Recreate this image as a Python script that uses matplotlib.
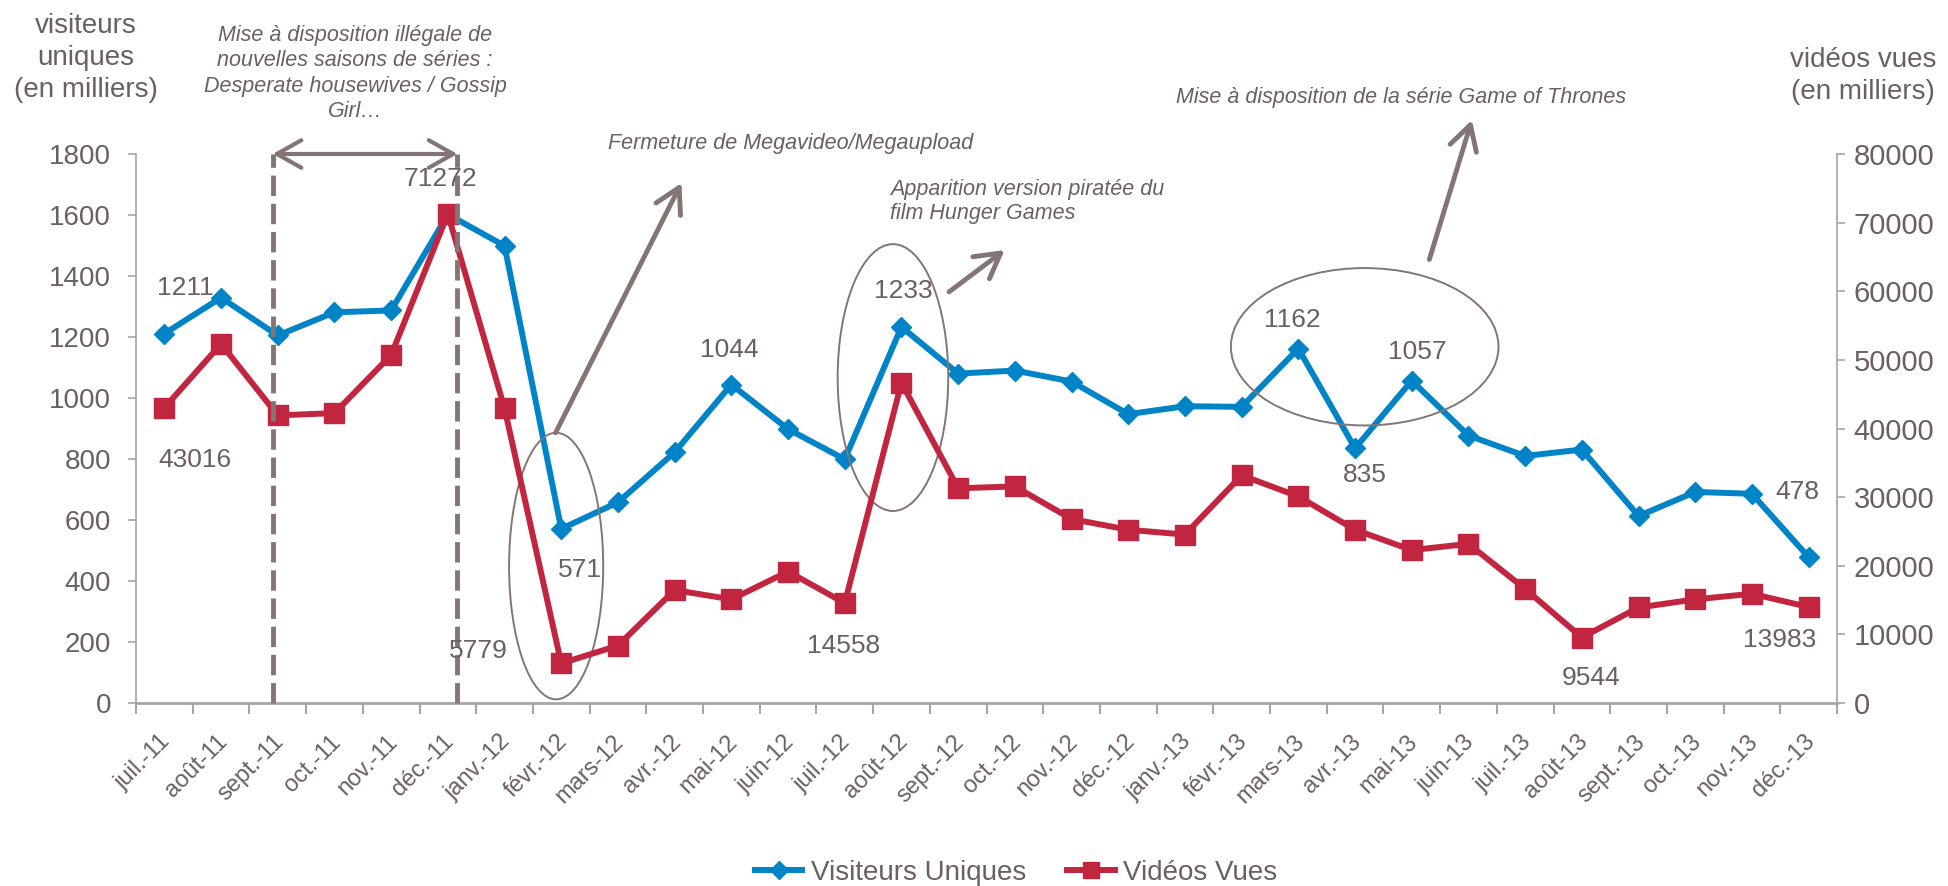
import matplotlib
matplotlib.use('Agg')
import matplotlib.pyplot as plt
from matplotlib.patches import Ellipse
from matplotlib.transforms import ScaledTranslation

plt.rcParams['font.family'] = ['Liberation Sans', 'DejaVu Sans']

months = ['juil.-11', 'août-11', 'sept.-11', 'oct.-11', 'nov.-11', 'déc.-11',
          'janv.-12', 'févr.-12', 'mars-12', 'avr.-12', 'mai-12', 'juin-12',
          'juil.-12', 'août-12', 'sept.-12', 'oct.-12', 'nov.-12', 'déc.-12',
          'janv.-13', 'févr.-13', 'mars-13', 'avr.-13', 'mai-13', 'juin-13',
          'juil.-13', 'août-13', 'sept.-13', 'oct.-13', 'nov.-13', 'déc.-13']

# visiteurs uniques (milliers) - axe gauche
visiteurs = [1211, 1329, 1205, 1281, 1287, 1602, 1499, 571, 658, 822,
             1044, 898, 799, 1233, 1080, 1090, 1054, 947, 973, 971,
             1162, 835, 1057, 877, 810, 831, 613, 692, 686, 478]

# vidéos vues (milliers) - axe droit
videos = [43016, 52327, 41915, 42239, 50708, 71272, 42940, 5779, 8361, 16453,
          15105, 19150, 14558, 46662, 31288, 31558, 26810, 25246, 24545, 33176,
          30101, 25246, 22279, 23196, 16615, 9544, 13918, 15105, 15914, 13983]

# points étiquetés : index -> décalage en pixels
vis_labels = {0: (21, 46), 7: (19, -41), 10: (-2, 35), 13: (2, 36),
              20: (-6, 29), 21: (10, -27), 22: (6, 29), 29: (-11, 65)}
vid_labels = {0: (31, -52), 5: (-7, 35), 7: (-83, 12), 12: (-1, -43),
              25: (9, -40), 29: (-29, -33)}

BLUE = '#0084C7'
RED = '#C2253F'
TXT = '#6B5F5F'
ANN = '#857474'
AX = '#A6A6A6'

W, H = 1948, 886
fig = plt.figure(figsize=(W / 100, H / 100), dpi=100)
ax1 = fig.add_axes([136 / W, 1 - 703 / H, (1837 - 136) / W, (703 - 154) / H])
ax2 = ax1.twinx()

x = list(range(len(months)))
ax1.plot(x, visiteurs, color=BLUE, lw=4.3, marker='D', ms=10.5, label='Visiteurs Uniques')
ax2.plot(x, videos, color=RED, lw=4.3, marker='s', ms=14, label='Vidéos Vues')

ax1.set_xlim(-0.5, len(months) - 0.5)
ax1.set_ylim(0, 1800)
ax2.set_ylim(0, 80000)
ax1.set_yticks(range(0, 1801, 200))
ax2.set_yticks(range(0, 80001, 10000))

# ticks entre les catégories, libellés au centre
ax1.set_xticks([i - 0.5 for i in range(len(months) + 1)])
ax1.set_xticklabels([])
ax1.set_xticks(x, minor=True)
ax1.set_xticklabels(months, minor=True, rotation=45, ha='right', rotation_mode='anchor')
ax1.tick_params(axis='x', which='minor', length=0, pad=20, labelsize=17, labelcolor=TXT)
ax1.tick_params(axis='x', which='major', length=8, width=1.5, color=AX, direction='out')
shift = ScaledTranslation(-0.05, 0, fig.dpi_scale_trans)
for lab in ax1.xaxis.get_minorticklabels():
    lab.set_transform(lab.get_transform() + shift)

ax1.tick_params(axis='y', length=6, width=1.2, color=AX, pad=12, labelsize=20, labelcolor=TXT)
ax2.tick_params(axis='y', length=6, width=1.2, color=AX, pad=6, labelsize=21, labelcolor=TXT)

for ax in (ax1, ax2):
    for s in ax.spines.values():
        s.set_visible(False)
ax1.spines['left'].set_visible(True)
ax1.spines['left'].set_color(AX)
ax1.spines['left'].set_linewidth(1.2)
ax1.spines['bottom'].set_visible(True)
ax1.spines['bottom'].set_color(AX)
ax1.spines['bottom'].set_linewidth(2)
ax2.spines['right'].set_visible(True)
ax2.spines['right'].set_color(AX)
ax2.spines['right'].set_linewidth(1.2)

# étiquettes de données
for i, (dx, dy) in vis_labels.items():
    ax2.annotate(str(visiteurs[i]), xy=(i, visiteurs[i]), xycoords=ax1.transData,
                 xytext=(dx, dy), textcoords='offset pixels', ha='center', va='center',
                 fontsize=19, color=TXT)
for i, (dx, dy) in vid_labels.items():
    ax2.annotate(str(videos[i]), xy=(i, videos[i]), xytext=(dx, dy),
                 textcoords='offset pixels', ha='center', va='center',
                 fontsize=19, color=TXT)

# titres des axes
fig.text(86 / W, 1 - 13 / H, 'visiteurs\nuniques\n(en milliers)', ha='center', va='top',
         fontsize=20, color=TXT, linespacing=1.3)
fig.text(1863 / W, 1 - 47 / H, 'vidéos vues\n(en milliers)', ha='center', va='top',
         fontsize=20, color=TXT, linespacing=1.3)

# annotations
ital = dict(fontsize=15.5, color=TXT, style='italic')
fig.text(355 / W, 1 - 25 / H, 'Mise à disposition illégale de\nnouvelles saisons de séries :\n'
         'Desperate housewives / Gossip\nGirl…', ha='center', va='top', linespacing=1.28, **ital)
fig.text(608 / W, 1 - 143 / H, 'Fermeture de Megavideo/Megaupload', ha='left', va='center', **ital)
fig.text(890 / W, 1 - 179 / H, 'Apparition version piratée du\nfilm Hunger Games', ha='left',
         va='top', linespacing=1.2, **ital)
fig.text(1401 / W, 1 - 97 / H, 'Mise à disposition de la série Game of Thrones', ha='center',
         va='center', **ital)

for xv in (1.91, 5.17):
    ax2.plot([xv, xv], [0, 1800], transform=ax1.transData, color=ANN, lw=3.5,
             ls=(0, (4.2, 1.6)), clip_on=False)
ax2.annotate('', xy=(1.91, 1800), xytext=(5.17, 1800), xycoords=ax1.transData,
             textcoords=ax1.transData, annotation_clip=False,
             arrowprops=dict(arrowstyle='<->,head_length=0.8,head_width=0.45', color=ANN,
                             lw=3, mutation_scale=22, shrinkA=0, shrinkB=0))

arrows = [((6.90, 886), (9.12, 1705)), ((13.84, 1348), (14.82, 1485)),
          ((22.31, 1454), (23.06, 1911))]
for start, end in arrows:
    ax2.annotate('', xy=end, xytext=start, xycoords=ax1.transData,
                 textcoords=ax1.transData, annotation_clip=False,
                 arrowprops=dict(arrowstyle='->,head_length=0.8,head_width=0.45', color=ANN,
                                 lw=3.5, mutation_scale=22, shrinkA=0, shrinkB=0))

for (cx, cy), w, h in [((6.91, 449), 1.66, 874), ((12.85, 1067), 1.95, 875),
                       ((21.17, 1168), 4.72, 516)]:
    ax2.add_patch(Ellipse((cx, cy), w, h, transform=ax1.transData, fill=False,
                          edgecolor=ANN, lw=1.4, clip_on=False))

h1, l1 = ax1.get_legend_handles_labels()
h2, l2 = ax2.get_legend_handles_labels()
fig.legend(h1 + h2, l1 + l2, loc='center', bbox_to_anchor=(0.5216, 13 / H), ncol=2,
           frameon=False, fontsize=20, labelcolor=TXT, handlelength=1.7,
           handletextpad=0.3, columnspacing=1.5, markerscale=0.85)

fig.savefig('out.png', dpi=100)
